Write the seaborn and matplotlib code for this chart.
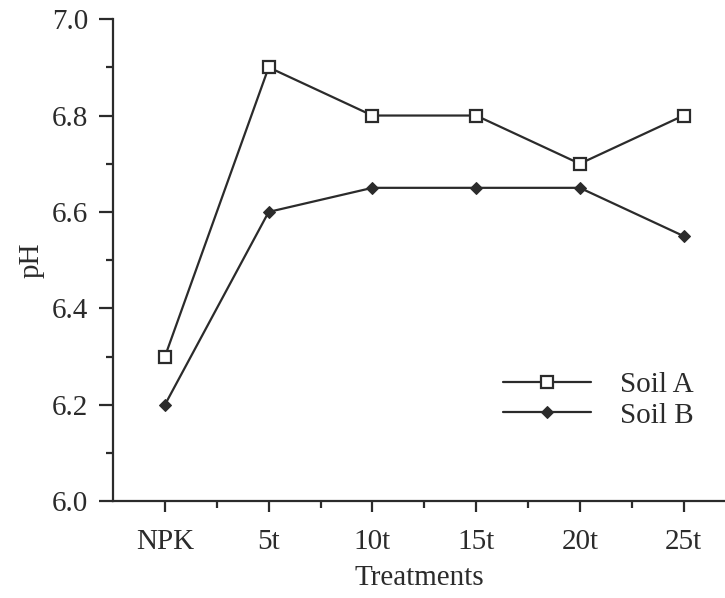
import matplotlib
matplotlib.use("Agg")
import matplotlib.pyplot as plt
from matplotlib.ticker import MultipleLocator, FixedLocator
import pandas as pd
import seaborn as sns

# data
treatments = ["NPK", "5t", "10t", "15t", "20t", "25t"]
soil_a = [6.3, 6.9, 6.8, 6.8, 6.7, 6.8]
soil_b = [6.2, 6.6, 6.65, 6.65, 6.65, 6.55]

INK = "#2b2b2b"

sns.set_style("ticks")
plt.rcParams["font.family"] = ["Liberation Serif", "DejaVu Serif"]

df_a = pd.DataFrame({"Treatments": treatments, "pH": soil_a, "soil": "Soil A"})
df_b = pd.DataFrame({"Treatments": treatments, "pH": soil_b, "soil": "Soil B"})

fig = plt.figure(figsize=(7.25, 5.98), dpi=100)
ax = fig.add_axes([0.156, 0.162, 0.844, 0.806])

sns.lineplot(data=df_a, x="Treatments", y="pH", sort=False, ax=ax,
             color=INK, lw=1.6, marker="s", ms=9, mfc="white", mec=INK,
             mew=1.6, label="Soil A")
sns.lineplot(data=df_b, x="Treatments", y="pH", sort=False, ax=ax,
             color=INK, lw=1.6, marker="D", ms=6.5, mfc=INK, mec=INK,
             label="Soil B")
# tiny centre dot of the open squares
sns.scatterplot(data=df_a, x="Treatments", y="pH", ax=ax, color=INK,
                s=3, linewidth=0, legend=False)

ax.set_xlim(-0.5, 5.4)
ax.set_ylim(6.0, 7.0)
ax.yaxis.set_major_locator(MultipleLocator(0.2))
ax.yaxis.set_minor_locator(MultipleLocator(0.1))
ax.xaxis.set_minor_locator(FixedLocator([0.5, 1.5, 2.5, 3.5, 4.5]))
ax.yaxis.set_major_formatter(matplotlib.ticker.FormatStrFormatter("%.1f"))

sns.despine(ax=ax)
for side in ["left", "bottom"]:
    ax.spines[side].set_color(INK)
    ax.spines[side].set_linewidth(1.6)

ax.tick_params(axis="both", which="major", direction="out", colors=INK,
               width=1.6, labelsize=21, labelcolor=INK, pad=8)
ax.tick_params(axis="y", which="major", length=10)
ax.tick_params(axis="x", which="major", length=8, pad=12)
ax.tick_params(axis="y", which="minor", direction="out", length=5,
               width=1.6, color=INK)
ax.tick_params(axis="x", which="minor", direction="out", length=5,
               width=1.6, color=INK)

ax.set_xlabel("Treatments", fontsize=21, color=INK, labelpad=7)
ax.set_ylabel("pH", fontsize=21, color=INK, labelpad=5)

leg = ax.legend(loc="center left", bbox_to_anchor=(0.595, 0.21), frameon=False,
                fontsize=21, handlelength=3.0, handletextpad=1.0,
                labelspacing=0.15)
for t in leg.get_texts():
    t.set_color(INK)

fig.savefig("out.png", dpi=100)
